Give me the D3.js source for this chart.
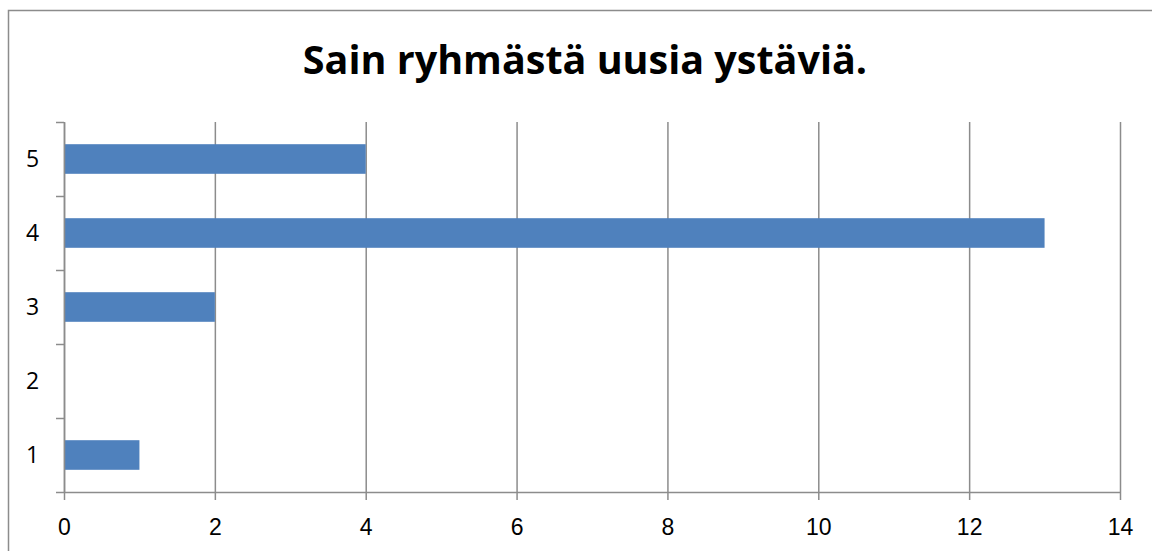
<!DOCTYPE html>
<html>
<head>
<meta charset="utf-8">
<script src="https://cdn.jsdelivr.net/npm/d3@7"></script>
<style>
  body { margin: 0; background: #fff; }
  svg { display: block; font-family: 'Open Sans', 'Liberation Sans', sans-serif; }
</style>
</head>
<body>
<div id="chart"></div>
<script>
// Data
const categories = ['1', '2', '3', '4', '5'];
const values = [1, 0, 2, 13, 4];
const xTicks = [0, 2, 4, 6, 8, 10, 12, 14];
const title = 'Sain ryhmästä uusia ystäviä.';

const W = 1152, H = 551;
const margin = { top: 122, right: 32, bottom: 59, left: 64 };
const w = W - margin.left - margin.right;
const h = H - margin.top - margin.bottom;
const barColor = '#4F81BD';
const lineColor = '#8c8c8c';

const svg = d3.select('#chart').append('svg')
  .attr('width', W).attr('height', H);

// Outer chart border (runs off the right/bottom edges)
svg.append('rect')
  .attr('x', 8.5).attr('y', 10.5)
  .attr('width', W + 20).attr('height', H + 20)
  .attr('fill', 'none').attr('stroke', '#8c8c8c').attr('stroke-width', 1.5);

// Title
svg.append('text')
  .attr('x', 585).attr('y', 74)
  .attr('text-anchor', 'middle')
  .style('font-size', '39.5px').style('font-weight', 'bold').style('fill', '#000')
  .text(title);

const g = svg.append('g')
  .attr('transform', `translate(${margin.left},${margin.top})`);

const xScale = d3.scaleLinear().domain([0, 14]).range([0, w]);
const yScale = d3.scaleBand().domain(categories.slice().reverse()).range([0, h])
  .paddingInner(0.6).paddingOuter(0.3);

// Vertical gridlines
g.append('g')
  .call(d3.axisBottom(xScale).tickValues(xTicks).tickSize(h).tickFormat(''))
  .call(a => a.select('.domain').remove())
  .call(a => a.selectAll('line').attr('stroke', lineColor).attr('stroke-width', 1.5));

// Bars
g.selectAll('.bar')
  .data(categories.map((c, i) => ({ c, v: values[i] })))
  .join('rect')
  .attr('class', 'bar')
  .attr('x', xScale(0))
  .attr('y', d => yScale(d.c))
  .attr('width', d => xScale(d.v) - xScale(0))
  .attr('height', yScale.bandwidth())
  .attr('fill', barColor);

// Bottom axis
const xAxis = g.append('g')
  .attr('transform', `translate(0,${h})`)
  .call(d3.axisBottom(xScale).tickValues(xTicks).tickSize(8).tickPadding(0).tickSizeOuter(0));
xAxis.select('.domain').attr('stroke', lineColor).attr('stroke-width', 1.5);
xAxis.selectAll('line').attr('stroke', lineColor).attr('stroke-width', 1.5);
xAxis.selectAll('text')
  .attr('y', 43).attr('dy', null)
  .style('font-size', '23px').style('fill', '#000');

// Left axis: ticks between categories
const yLin = d3.scaleLinear().domain([0, categories.length]).range([h, 0]);
const yAxis = g.append('g')
  .call(d3.axisLeft(yLin).ticks(categories.length).tickSize(8).tickFormat('').tickSizeOuter(0));
yAxis.select('.domain').attr('stroke', lineColor).attr('stroke-width', 1.5);
yAxis.selectAll('line').attr('stroke', lineColor).attr('stroke-width', 1.5);

// Category labels
g.selectAll('.ylab')
  .data(categories)
  .join('text')
  .attr('class', 'ylab')
  .attr('x', -31.5)
  .attr('y', d => yScale(d) + yScale.bandwidth() / 2 + 8)
  .attr('text-anchor', 'middle')
  .style('font-size', '23px').style('fill', '#000')
  .text(d => d);
</script>
</body>
</html>
